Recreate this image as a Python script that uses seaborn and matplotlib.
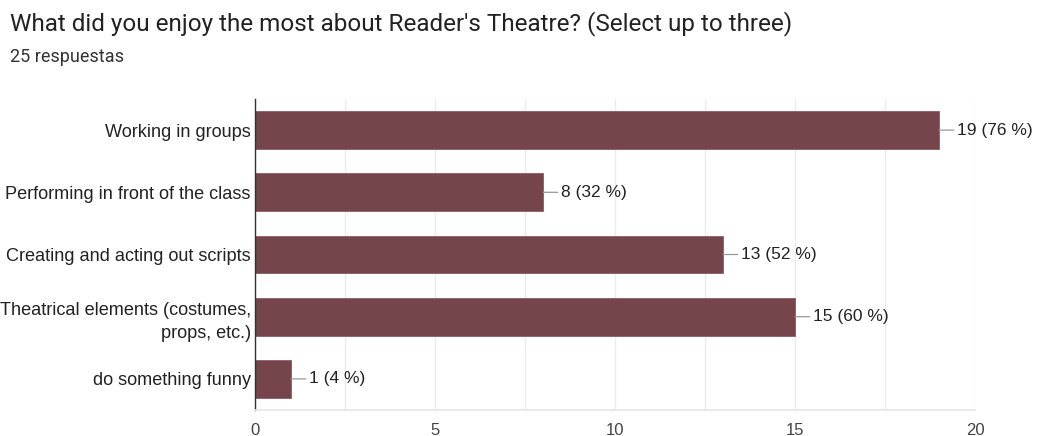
import matplotlib
matplotlib.use("Agg")
import matplotlib.pyplot as plt
import seaborn as sns
import pandas as pd
from matplotlib.ticker import MultipleLocator

categories = [
    "Working in groups",
    "Performing in front of the class",
    "Creating and acting out scripts",
    "Theatrical elements (costumes,\nprops, etc.)",
    "do something funny",
]
counts = [19, 8, 13, 15, 1]
labels = ["19 (76 %)", "8 (32 %)", "13 (52 %)", "15 (60 %)", "1 (4 %)"]
x_ticks = [0, 5, 10, 15, 20]
title = "What did you enjoy the most about Reader's Theatre? (Select up to three)"
subtitle = "25 respuestas"

sns.set_theme(style="white")
plt.rcParams["font.family"] = ["Liberation Sans", "DejaVu Sans"]

df = pd.DataFrame({"category": categories, "count": counts})

fig = plt.figure(figsize=(10.38, 4.36), dpi=100)
ax = fig.add_axes([255 / 1038, 26 / 436, 720 / 1038, 311 / 436])

sns.barplot(data=df, y="category", x="count", orient="h", color="#76444b",
            saturation=1, width=0.61, edgecolor="#8c5d63", linewidth=0.6, ax=ax)

ax.set_xlim(0, 20)
ax.set_ylim(4.5, -0.5)
ax.xaxis.set_minor_locator(MultipleLocator(2.5))
ax.set_xticks(x_ticks)
ax.set_xticklabels([str(t) for t in x_ticks], fontsize=12, color="#444444")
ax.grid(axis="x", which="both", color="#ebebeb", linewidth=1)
ax.set_axisbelow(True)
ax.set_xlabel("")
ax.set_ylabel("")
ax.tick_params(axis="x", length=0, pad=9)
ax.tick_params(axis="y", length=0, pad=3, labelsize=13.1, labelcolor="#222222")
for t in ax.get_yticklabels():
    t.set_linespacing(1.45)

for s in ["top", "right"]:
    ax.spines[s].set_visible(False)
ax.spines["bottom"].set_color("#e6e6e6")
ax.spines["left"].set_color("#333333")
ax.spines["left"].set_linewidth(1)

for i, (v, lab) in enumerate(zip(counts, labels)):
    ax.annotate(lab, xy=(v, i), xytext=(13, 0), textcoords="offset points",
                va="center", ha="left", fontsize=12.5, color="#222222",
                arrowprops=dict(arrowstyle="-", color="#999999", lw=0.9,
                                shrinkA=0, shrinkB=0, relpos=(0, 0.5)))

fig.text(10 / 1038, 1 - 24 / 436, title, fontsize=17.5, color="#222222",
         va="center", ha="left", family=["Roboto", "DejaVu Sans"])
fig.text(10 / 1038, 1 - 57 / 436, subtitle, fontsize=13, color="#333333",
         va="center", ha="left", family=["Roboto", "DejaVu Sans"])

fig.savefig("out.png", dpi=100, facecolor="white")
